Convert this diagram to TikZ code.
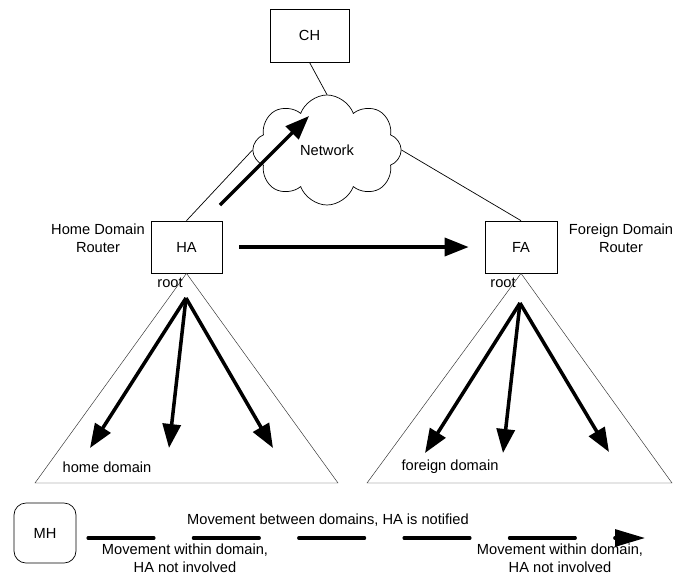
\documentclass[tikz,border=0pt]{standalone}
\usepackage{fontspec}
\setmainfont{Liberation Sans}
\usetikzlibrary{arrows.meta,shapes.symbols}
\begin{document}
\begin{tikzpicture}[x=0.03cm,y=-0.03cm,font=\fontsize{12.5}{15}\selectfont,
  box/.style={draw,line width=0.6pt,inner sep=0pt},
  link/.style={line width=0.6pt},
  domainline/.style={draw=black!80,line width=0.4pt},
  bigarrow/.style={line width=3pt,-{Triangle[length=0.72cm,width=0.54cm]}}]
\useasboundingbox (0,0) rectangle (674,576);
\node[box,minimum width=2.37cm,minimum height=1.59cm] (CH) at (309.5,35.5) {CH};
\node[draw,line width=0.6pt,cloud,cloud puffs=8,cloud puff arc=140,cloud ignores aspect,minimum width=4.45cm,minimum height=3.3cm,inner sep=0pt] (net) at (327,150) {Network};
\node[box,minimum width=2.13cm,minimum height=1.56cm] (HA) at (186.5,247) {HA};
\node[box,minimum width=2.16cm,minimum height=1.56cm] (FA) at (521,247) {FA};
\node[align=center] (homertr) at (98,238) {Home Domain\\Router};
\node[align=center] (forrtr) at (621,238) {Foreign Domain\\Router};
\draw[link] (CH.south) -- (net.north);
\draw[link] (HA.north) -- (net.west);
\draw[link] (net.east) -- (FA.north);
\coordinate (up0) at (220,205);
\coordinate (up1) at (309,116);
\draw[bigarrow] (up0) -- (up1);
\draw[bigarrow,shorten <=0.51cm,shorten >=0.48cm] (HA) -- (FA);
\coordinate (hl) at (35,483);
\coordinate (hr) at (338,483);
\coordinate (fl) at (367,483);
\coordinate (fr) at (672,483);
\draw[domainline] (HA.south) -- (hl) -- (hr) -- cycle;
\draw[domainline] (FA.south) -- (fl) -- (fr) -- cycle;
\node (hroot) at (170,283) {root};
\node (froot) at (503,283) {root};
\coordinate (h0) at (186,298);
\coordinate (f0) at (520,303);
\foreach \x/\y in {90/448,169/448,273/448}
  \draw[bigarrow] (h0) -- (\x,\y);
\foreach \x/\y in {425/453,503/453,609/452}
  \draw[bigarrow] (f0) -- (\x,\y);
\node (homedom) at (107,467) {home domain};
\node (fordom) at (450,467) {foreign domain};
\node[draw,line width=0.6pt,rounded corners=0.36cm,minimum width=1.86cm,minimum height=1.8cm] (MH) at (45,533) {MH};
\coordinate (mv0) at (88,538);
\coordinate (mv1) at (645,538);
\draw[line width=2.6pt,line cap=round,dash pattern=on 1.98cm off 1.18cm,-{Triangle[length=0.9cm,width=0.51cm]}] (mv0) -- (mv1);
\node (between) at (328,520) {Movement between domains, HA is notified};
\node[align=center] (within0) at (185,558) {Movement within domain,\\HA not involved};
\node[align=center] (within1) at (560,558) {Movement within domain,\\HA not involved};
\end{tikzpicture}
\end{document}
